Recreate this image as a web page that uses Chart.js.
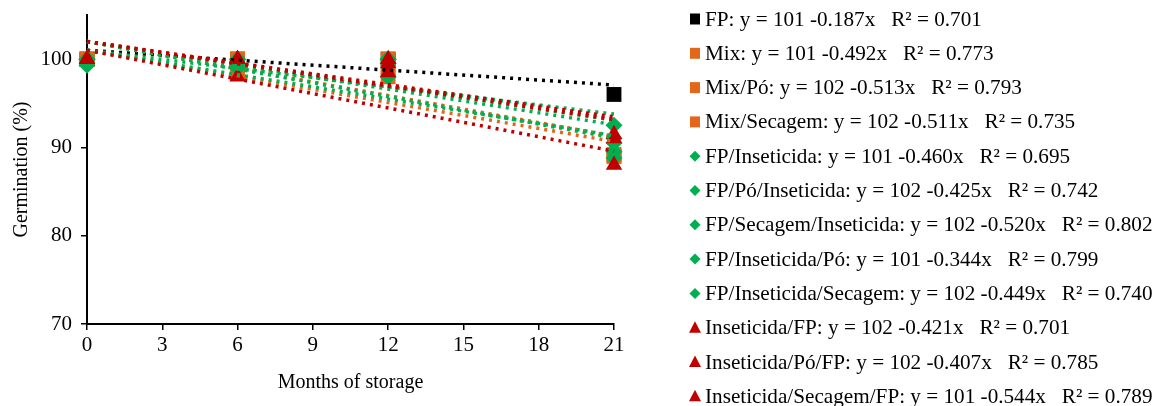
<!DOCTYPE html>
<html>
<head>
<meta charset="utf-8">
<title>Germination</title>
<script src="https://cdn.jsdelivr.net/npm/chart.js@4/dist/chart.umd.min.js"></script>
<style>
body { margin: 0; background: #fff; }
#wrap { width: 1164px; height: 406px; }
</style>
</head>
<body>
<div id="wrap"><canvas id="myChart"></canvas></div>
<script>
// data
var months = [0, 6, 12, 21];
var names = ['FP', 'Mix', 'Mix/Pó', 'Mix/Secagem', 'FP/Inseticida', 'FP/Pó/Inseticida',
  'FP/Secagem/Inseticida', 'FP/Inseticida/Pó', 'FP/Inseticida/Secagem',
  'Inseticida/FP', 'Inseticida/Pó/FP', 'Inseticida/Secagem/FP'];
var intercepts = [101, 101, 102, 102, 101, 102, 102, 101, 102, 102, 102, 101];
var slopes = [-0.187, -0.492, -0.513, -0.511, -0.460, -0.425, -0.520, -0.344, -0.449, -0.421, -0.407, -0.544];
var r2 = [0.701, 0.773, 0.793, 0.735, 0.695, 0.742, 0.802, 0.799, 0.740, 0.701, 0.785, 0.789];
var germination = [
  [100, 100, 100, 96],
  [100, 98.5, 98, 89.2],
  [100, 100, 99, 89],
  [100, 100, 100, 89],
  [99.3, 99, 98, 89.5],
  [100, 100, 100, 91],
  [100, 99.5, 100, 88.8],
  [100, 99, 99.5, 92.5],
  [100, 100, 100, 90.5],
  [100, 100, 99.5, 91],
  [100, 100, 100, 91.5],
  [100, 98, 98.5, 88]
];
var yTicks = [70, 80, 90, 100];

// styles
var BLACK = '#000000', ORANGE = '#E2671A', GREEN = '#00B050', RED = '#C00000';
var colors = [BLACK, ORANGE, ORANGE, ORANGE, GREEN, GREEN, GREEN, GREEN, GREEN, RED, RED, RED];
var shapes = ['rect', 'rect', 'rect', 'rect', 'rectRot', 'rectRot', 'rectRot', 'rectRot', 'rectRot', 'triangle', 'triangle', 'triangle'];
var radii = { rect: 10.5, rectRot: 8.5, triangle: 9.5 };
var FONT = '"Liberation Serif", "Times New Roman", serif';

function fmt(v) { return v.toFixed(3); }
function labelFor(i) {
  return names[i] + ': y = ' + intercepts[i] + ' -' + fmt(-slopes[i]) + 'x   R\u00B2 = ' + fmt(r2[i]);
}

var datasets = [];
for (var i = 0; i < names.length; i++) {
  datasets.push({
    label: names[i],
    data: months.map(function (m, k) { return { x: m, y: germination[i][k] }; }),
    showLine: false,
    clip: false,
    pointStyle: shapes[i],
    pointRadius: radii[shapes[i]],
    pointBackgroundColor: colors[i],
    pointBorderColor: colors[i],
    pointBorderWidth: 0,
    order: 100 + (names.length - 1 - i)
  });
}
for (var j = 0; j < names.length; j++) {
  var last = months[months.length - 1];
  datasets.push({
    label: names[j] + ' trend',
    data: [{ x: months[0], y: intercepts[j] + slopes[j] * months[0] },
           { x: last, y: intercepts[j] + slopes[j] * last }],
    showLine: true,
    clip: false,
    borderColor: colors[j],
    borderWidth: 3.5,
    borderDash: [3, 5],
    pointRadius: 0,
    order: names.length - 1 - j
  });
}

var sideLegend = {
  id: 'sideLegend',
  afterDraw: function (chart) {
    var ctx = chart.ctx;
    ctx.save();
    ctx.font = '21.2px ' + FONT;
    ctx.textBaseline = 'middle';
    for (var i = 0; i < names.length; i++) {
      var y = 19 + i * 34.3;
      var x = 695;
      ctx.fillStyle = colors[i];
      ctx.beginPath();
      if (shapes[i] === 'rect') {
        ctx.rect(x - 5, y - 5.5, 10, 11);
      } else if (shapes[i] === 'rectRot') {
        ctx.moveTo(x, y - 5.5); ctx.lineTo(x + 5.5, y); ctx.lineTo(x, y + 5.5); ctx.lineTo(x - 5.5, y);
      } else {
        ctx.moveTo(x, y - 6.5); ctx.lineTo(x + 6, y + 5); ctx.lineTo(x - 6, y + 5);
      }
      ctx.closePath();
      ctx.fill();
      ctx.fillStyle = '#000';
      ctx.fillText(labelFor(i), 705, y + 1);
    }
    ctx.restore();
  }
};

var ctx = document.getElementById('myChart').getContext('2d');
var myChart = new Chart(ctx, {
  type: 'scatter',
  data: { datasets: datasets },
  plugins: [sideLegend],
  options: {
    responsive: true,
    maintainAspectRatio: false,
    animation: false,
    layout: { padding: { left: 0, right: 550, top: 15, bottom: 0 } },
    plugins: { legend: { display: false }, tooltip: { enabled: false } },
    scales: {
      x: {
        type: 'linear',
        min: 0, max: 21,
        ticks: { stepSize: 3, color: '#000', font: { family: FONT, size: 21 }, padding: 3, maxRotation: 0 },
        grid: { drawOnChartArea: false, drawTicks: true, tickLength: 6, color: '#000', lineWidth: 1.5 },
        border: { display: true, color: '#000', width: 2 },
        title: { display: true, text: 'Months of storage', color: '#000', font: { family: FONT, size: 20 }, padding: { top: 4, bottom: 11 } },
        afterFit: function (s) { s.height = 82; s.paddingLeft = 0; s.paddingRight = 0; }
      },
      y: {
        type: 'linear',
        min: 70, max: 105,
        afterBuildTicks: function (s) { s.ticks = yTicks.map(function (v) { return { value: v }; }); },
        ticks: { color: '#000', font: { family: FONT, size: 21 }, padding: 9 },
        grid: { drawOnChartArea: false, drawTicks: true, tickLength: 6, color: '#000', lineWidth: 1.5 },
        border: { display: true, color: '#000', width: 2 },
        title: { display: true, text: 'Germination (%)', color: '#000', font: { family: FONT, size: 20 }, padding: { top: 10, bottom: 4 } },
        afterFit: function (s) { s.width = 87; s.paddingTop = 0; s.paddingBottom = 0; }
      }
    }
  }
});
</script>
</body>
</html>
